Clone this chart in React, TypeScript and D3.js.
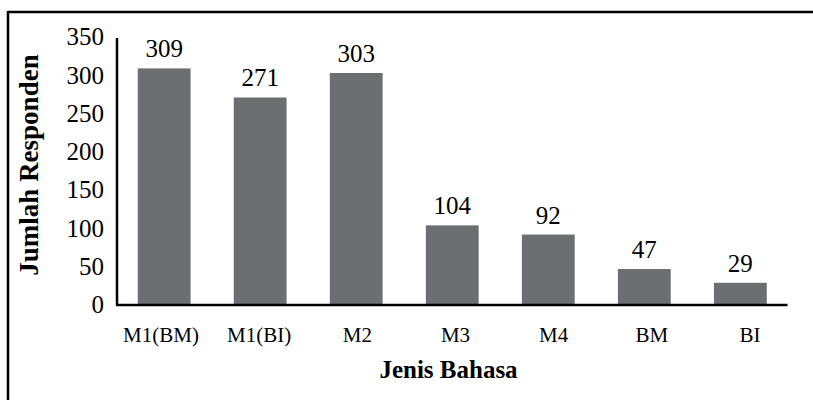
import React from "react";
import * as d3 from "d3";

const categories = ["M1(BM)", "M1(BI)", "M2", "M3", "M4", "BM", "BI"];
const values = [309, 271, 303, 104, 92, 47, 29];
const yTicks = [0, 50, 100, 150, 200, 250, 300, 350];
const xTitle = "Jenis Bahasa";
const yTitle = "Jumlah Responden";

const W = 813;
const H = 400;
const FONT = "'Liberation Serif', 'Times New Roman', 'DejaVu Serif', serif";

export default function App() {
  const x = d3
    .scaleBand<string>()
    .domain(categories)
    .range([117, 787.5])
    .paddingInner(0.45)
    .paddingOuter(0.216);
  const y = d3.scaleLinear().domain([0, 350]).range([305, 37]);
  const labelX = d3.scalePoint<string>().domain(categories).range([161, 750]);

  return (
    <svg
      width={W}
      height={H}
      style={{ position: "absolute", left: 0, top: 0, background: "#fff", fontFamily: FONT }}
    >
      {/* outer frame */}
      <line x1={8} y1={12} x2={W} y2={12} stroke="#000" strokeWidth={2.5} />
      <line x1={8} y1={11} x2={8} y2={H} stroke="#000" strokeWidth={2.5} />

      {/* bars */}
      {categories.map((c, i) => (
        <rect
          key={c}
          x={x(c)}
          y={y(values[i])}
          width={x.bandwidth()}
          height={y(0) - y(values[i])}
          fill="#6d6e71"
        />
      ))}

      {/* value labels */}
      {categories.map((c, i) => (
        <text
          key={c}
          x={(x(c) as number) + x.bandwidth() / 2}
          y={y(values[i]) - 11}
          textAnchor="middle"
          fontSize={25}
          fill="#000"
        >
          {values[i]}
        </text>
      ))}

      {/* axes */}
      <line x1={117} y1={y(0)} x2={117} y2={38} stroke="#000" strokeWidth={2.5} />
      <line x1={116} y1={y(0)} x2={787.5} y2={y(0)} stroke="#000" strokeWidth={2.5} />

      {/* y tick labels */}
      {yTicks.map((t) => (
        <text
          key={t}
          x={104}
          y={y(t)}
          dy="0.33em"
          textAnchor="end"
          fontSize={25}
          fill="#000"
        >
          {t}
        </text>
      ))}

      {/* x category labels */}
      {categories.map((c) => (
        <text
          key={c}
          x={labelX(c)}
          y={342}
          textAnchor="middle"
          fontSize={21}
          fill="#000"
        >
          {c}
        </text>
      ))}

      {/* axis titles */}
      <text
        x={448.5}
        y={378}
        textAnchor="middle"
        fontSize={25}
        fontWeight="bold"
        fill="#000"
      >
        {xTitle}
      </text>
      <text
        transform={`translate(38,165) rotate(-90)`}
        textAnchor="middle"
        fontSize={27}
        fontWeight="bold"
        fill="#000"
      >
        {yTitle}
      </text>
    </svg>
  );
}
